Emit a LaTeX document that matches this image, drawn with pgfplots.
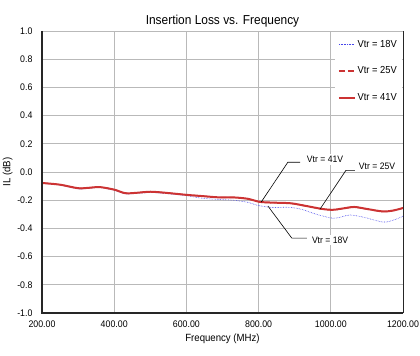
\documentclass[border=0pt]{standalone}
\usepackage{fontspec}
\setmainfont{Liberation Sans}[FakeStretch=0.92]
\usepackage{pgfplots}
\pgfplotsset{compat=1.18}
\definecolor{rline}{RGB}{204,51,51}
\definecolor{bline}{RGB}{70,70,235}
\definecolor{gridc}{RGB}{185,185,185}
\begin{document}
\begin{tikzpicture}
\begin{axis}[
  name=ax,
  scale only axis,
  width=361bp, height=282bp,
  xmin=200, xmax=1200, ymin=-1, ymax=1,
  xtick={200,400,...,1200}, ytick={-1,-0.8,...,1.01},
  xticklabel={\pgfmathprintnumber[fixed,fixed zerofill,precision=2,1000 sep={}]{\tick}},
  yticklabel={\pgfmathprintnumber[fixed,fixed zerofill,precision=1]{\tick}},
  /pgf/number format/assume math mode=true,
  tick style={draw=none},
  ticklabel style={font=\fontsize{9.6}{11}\selectfont},
  xticklabel style={yshift=-4bp},
  yticklabel style={xshift=-6bp},
  grid=major,
  major grid style={gridc, line width=0.9pt},
  axis line style={draw=none},
  title={Insertion Loss vs. Frequency},
  title style={font=\fontsize{13}{15}\selectfont, yshift=-6bp},
  xlabel={Frequency (MHz)},
  ylabel={IL (dB)},
  label style={font=\fontsize{10.5}{12}\selectfont},
  xlabel style={yshift=0bp},
  ylabel style={yshift=-2bp},
  legend style={at={(rel axis cs:1,1)}, anchor=north east, draw=none, fill=white,
    font=\fontsize{10.2}{12}\selectfont, inner xsep=3bp, inner ysep=5bp,
    row sep=14bp, legend cell align=left, xshift=-1bp, yshift=-2bp},
  legend image code/.code={\draw[#1] (0cm,0cm) -- (0.55cm,0cm);},
  clip=false,
]
\addplot[bline, line width=0.6pt, densely dotted, smooth] coordinates {
(200,-0.080) (250,-0.093) (300,-0.120) (330,-0.116) (360,-0.110) (400,-0.130)
(430,-0.155) (460,-0.152) (500,-0.146) (540,-0.152) (600,-0.168) (640,-0.185)
(690,-0.195) (730,-0.200) (770,-0.215) (800,-0.238) (840,-0.252) (880,-0.250)
(915,-0.262) (960,-0.300) (1006,-0.328) (1030,-0.318) (1053,-0.305) (1090,-0.320)
(1145,-0.355) (1175,-0.340) (1200,-0.313)};
\addlegendentry{Vtr = 18V}
\addplot[rline, line width=1.2pt, dash pattern=on 6bp off 3bp, smooth] coordinates {
(200,-0.078) (250,-0.090) (300,-0.115) (330,-0.112) (360,-0.107) (400,-0.125)
(430,-0.150) (460,-0.148) (500,-0.140) (540,-0.147) (600,-0.162) (640,-0.170)
(690,-0.180) (730,-0.181) (770,-0.191) (804,-0.213) (850,-0.219) (890,-0.223)
(930,-0.241) (976,-0.263) (1006,-0.269) (1035,-0.259) (1065,-0.249) (1100,-0.263)
(1145,-0.281) (1175,-0.273) (1200,-0.256)};
\addlegendentry{Vtr = 25V}
\addplot[rline, line width=2pt, smooth] coordinates {
(200,-0.078) (250,-0.090) (300,-0.115) (330,-0.112) (360,-0.107) (400,-0.125)
(430,-0.150) (460,-0.148) (500,-0.140) (540,-0.147) (600,-0.162) (640,-0.170)
(690,-0.180) (730,-0.180) (770,-0.190) (804,-0.212) (850,-0.218) (890,-0.222)
(930,-0.240) (976,-0.262) (1006,-0.268) (1035,-0.258) (1065,-0.248) (1100,-0.262)
(1145,-0.280) (1175,-0.272) (1200,-0.255)};
\addlegendentry{Vtr = 41V}
% annotations
\draw[black, line width=0.6pt] (axis cs:915,0.069) -- (axis cs:881,0.069) -- (axis cs:807,-0.214);
\draw[black, line width=0.6pt] (axis cs:1067,0.012) -- (axis cs:1042,0.012) -- (axis cs:970,-0.264);
\draw[black, line width=0.6pt] (axis cs:934,-0.469) -- (axis cs:892,-0.469) -- (axis cs:826,-0.242);
\node[fill=white, inner sep=2bp, font=\fontsize{9.4}{10}\selectfont] at (axis cs:984,0.09) {Vtr = 41V};
\node[fill=white, inner sep=2bp, font=\fontsize{9.4}{10}\selectfont] at (axis cs:1128,0.04) {Vtr = 25V};
\node[fill=white, inner sep=2bp, font=\fontsize{9.4}{10}\selectfont] at (axis cs:998,-0.483) {Vtr = 18V};
% axis frame
\draw[black!85, line width=1.6pt] (rel axis cs:0,1) -- (rel axis cs:0,0) -- (rel axis cs:1,0);
\draw[black!85, line width=0.9pt] (rel axis cs:1,0) -- (rel axis cs:1,1);
\end{axis}
\pgfresetboundingbox
\path[use as bounding box] ([xshift=-42bp,yshift=-43bp]ax.south west) rectangle ([xshift=17bp,yshift=31bp]ax.north east);
\end{tikzpicture}
\end{document}
